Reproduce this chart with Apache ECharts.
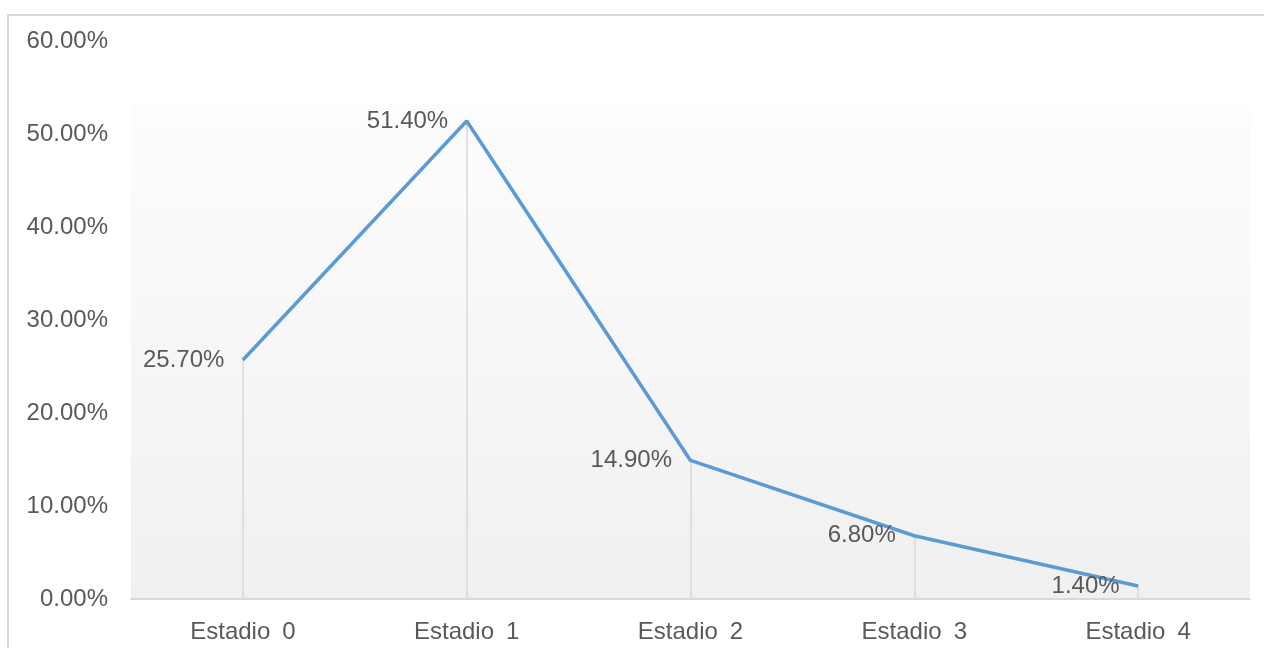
<!DOCTYPE html>
<html>
<head>
<meta charset="utf-8">
<script src="https://cdn.jsdelivr.net/npm/echarts@6/dist/echarts.min.js"></script>
<style>
html,body{margin:0;padding:0;background:#fff;}
#c{width:1264px;height:648px;}
</style>
</head>
<body>
<div id="c"></div>
<script>
const categories = ['Estadio 0', 'Estadio 1', 'Estadio 2', 'Estadio 3', 'Estadio 4'];
const values = [25.7, 51.4, 14.9, 6.8, 1.4];
const yTicks = [0, 10, 20, 30, 40, 50, 60];

const chart = echarts.init(document.getElementById('c'));
const font = '"Liberation Sans", Arial, sans-serif';
chart.setOption({
  animation: false,
  graphic: [{
    type: 'rect', z: -10,
    shape: {x: 8, y: 15, width: 1300, height: 700},
    style: {fill: '#fff', stroke: '#d9d9d9', lineWidth: 2}
  }],
  grid: {
    left: 131, right: 14, top: 41, bottom: 49,
    show: true, borderWidth: 0,
    backgroundColor: {
      type: 'linear', x: 0, y: 0, x2: 0, y2: 1,
      colorStops: [
        {offset: 0, color: '#ffffff'},
        {offset: 0.11, color: '#ffffff'},
        {offset: 0.111, color: '#fdfdfd'},
        {offset: 1, color: '#f0f0f0'}
      ]
    }
  },
  xAxis: {
    type: 'category',
    data: categories,
    boundaryGap: true,
    axisLine: {lineStyle: {color: '#d9d9d9', width: 2}},
    axisTick: {show: false},
    axisLabel: {color: '#595959', fontSize: 24, fontFamily: font, margin: 21,
      formatter: v => v.replace(' ', '\u2002')}
  },
  yAxis: {
    type: 'value',
    min: yTicks[0], max: yTicks[yTicks.length - 1], interval: 10,
    axisLine: {show: false},
    axisTick: {show: false},
    splitLine: {show: false},
    axisLabel: {color: '#595959', fontSize: 24, fontFamily: font, margin: 23,
      padding: [6, 0, 0, 0],
      formatter: v => v.toFixed(2) + '%'}
  },
  series: [{
    type: 'line',
    data: values,
    symbol: 'circle',
    symbolSize: 1,
    showSymbol: true,
    itemStyle: {color: 'rgba(0,0,0,0)'},
    lineStyle: {color: '#5B9BD5', width: 3.5},
    label: {
      show: true, position: 'left', distance: 18,
      padding: [6, 0, 0, 0],
      color: '#595959', fontSize: 24, fontFamily: font,
      formatter: p => p.value.toFixed(2) + '%'
    },
    markLine: {
      silent: true, symbol: 'none', z: 1,
      label: {show: false},
      lineStyle: {color: '#d9d9d9', width: 1.5, type: 'solid'},
      data: values.map((v, i) => [{coord: [i, 0]}, {coord: [i, v]}])
    }
  }]
});
</script>
</body>
</html>
